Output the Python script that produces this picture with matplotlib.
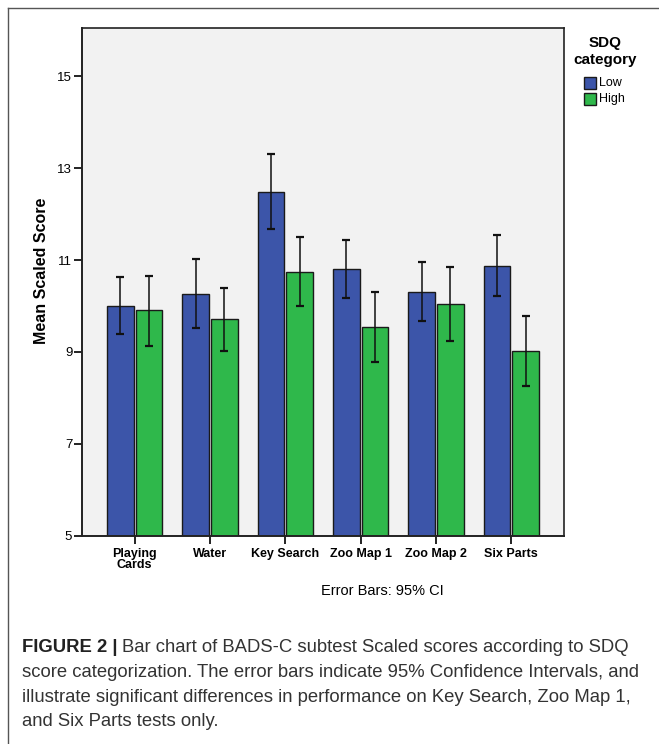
import matplotlib
matplotlib.use("Agg")
import matplotlib.pyplot as plt
from matplotlib import font_manager
from matplotlib.patches import Rectangle
from matplotlib.lines import Line2D
import numpy as np

categories = ["Playing\nCards", "Water", "Key Search", "Zoo Map 1", "Zoo Map 2", "Six Parts"]
low_mean = [10.01, 10.27, 12.49, 10.81, 10.31, 10.88]
low_lo = [9.38, 9.52, 11.67, 10.17, 9.67, 10.21]
low_hi = [10.63, 11.03, 13.30, 11.44, 10.95, 11.55]
high_mean = [9.91, 9.71, 10.75, 9.54, 10.04, 9.01]
high_lo = [9.13, 9.02, 9.99, 8.77, 9.24, 8.25]
high_hi = [10.66, 10.39, 11.51, 10.31, 10.85, 9.78]
yticks = [5, 7, 9, 11, 13, 15]
series_names = ["Low", "High"]

names = {f.name for f in font_manager.fontManager.ttflist}
base = "Liberation Sans" if "Liberation Sans" in names else "DejaVu Sans"
narrow = "Liberation Sans Narrow" if "Liberation Sans Narrow" in names else base
plt.rcParams["font.family"] = [base, "DejaVu Sans"]

BLUE = "#3c55a9"
GREEN = "#2fb84b"
EDGE = "#1a1a1a"

fig = plt.figure(figsize=(6.59, 7.44), dpi=100)
W, H = 659, 744

def fx(px):
    return px / W

def fy(py):
    return 1 - py / H

ax = fig.add_axes([fx(82), fy(535.7), fx(564) - fx(82), fy(28) - fy(535.7)])
ax.set_facecolor("#f2f2f2")

x = np.arange(len(categories))
bw = 0.355
off = 0.19
ax.bar(x - off, np.array(low_mean) - 5, bw, bottom=5, color=BLUE, edgecolor=EDGE, linewidth=1.0, zorder=2)
ax.bar(x + off, np.array(high_mean) - 5, bw, bottom=5, color=GREEN, edgecolor=EDGE, linewidth=1.0, zorder=2)

lm = np.array(low_mean); hm = np.array(high_mean)
ax.errorbar(x - off, lm, yerr=[lm - np.array(low_lo), np.array(low_hi) - lm], fmt="none",
            ecolor="#111111", elinewidth=1.1, capsize=3, capthick=1.6, zorder=3)
ax.errorbar(x + off, hm, yerr=[hm - np.array(high_lo), np.array(high_hi) - hm], fmt="none",
            ecolor="#111111", elinewidth=1.1, capsize=3, capthick=1.6, zorder=3)

ax.set_xlim(-0.7, len(categories) - 1 + 0.7)
ax.set_ylim(5, 16.05)
ax.set_yticks(yticks)
ax.set_yticklabels([str(t) for t in yticks], fontsize=9.5)
ax.set_xticks(x)
ax.set_xticklabels(categories, fontsize=9, fontweight="bold", linespacing=0.85)
ax.tick_params(axis="both", direction="out", length=6, width=1.3, color="#111111")
ax.tick_params(axis="y", pad=1)
ax.tick_params(axis="x", pad=3)
for s in ax.spines.values():
    s.set_color("#222222")
    s.set_linewidth(1.2)
ax.spines["left"].set_linewidth(1.4)
ax.spines["bottom"].set_linewidth(1.4)

fig.text(fx(42), fy(271), "Mean Scaled Score", rotation=90, fontsize=11.5,
         fontweight="bold", ha="center", va="center")

# legend
fig.text(fx(605), fy(43), "SDQ", fontsize=11, fontweight="bold", ha="center", va="center")
fig.text(fx(605), fy(60), "category", fontsize=11, fontweight="bold", ha="center", va="center")
for i, (name, col) in enumerate(zip(series_names, [BLUE, GREEN])):
    cy = 83 + i * 16
    fig.patches.append(Rectangle((fx(584), fy(cy + 6)), fx(12), (12 / H), transform=fig.transFigure,
                                 facecolor=col, edgecolor=EDGE, linewidth=1.0))
    fig.text(fx(599.5), fy(cy), name, fontsize=9, ha="left", va="center")

fig.text(fx(382), fy(591), "Error Bars: 95% CI", fontsize=10.5, ha="center", va="center")

# frame lines
fig.add_artist(Line2D([fx(8), 1.0], [fy(8), fy(8)], transform=fig.transFigure, color="#555555", linewidth=1.0))
fig.add_artist(Line2D([fx(8), fx(8)], [fy(8), 0.0], transform=fig.transFigure, color="#555555", linewidth=1.0))

# caption
cap_lines = [
    "Bar chart of BADS-C subtest Scaled scores according to SDQ",
    "score categorization. The error bars indicate 95% Confidence Intervals, and",
    "illustrate significant differences in performance on Key Search, Zoo Map 1,",
    "and Six Parts tests only.",
]
cs = 13.35
t0 = fig.text(fx(22), fy(652), "FIGURE 2 |", fontsize=cs, fontweight="bold", family=narrow,
              ha="left", va="baseline", color="#222222")
fig.canvas.draw()
bb = t0.get_window_extent()
fig.text((bb.x1 + 4) / W, fy(652), cap_lines[0], fontsize=cs, family=narrow, ha="left",
         va="baseline", color="#333333")
for i, line in enumerate(cap_lines[1:]):
    fig.text(fx(22), fy(652 + 24.8 * (i + 1)), line, fontsize=cs, family=narrow, ha="left",
             va="baseline", color="#333333")

fig.savefig("out.png", dpi=100)
